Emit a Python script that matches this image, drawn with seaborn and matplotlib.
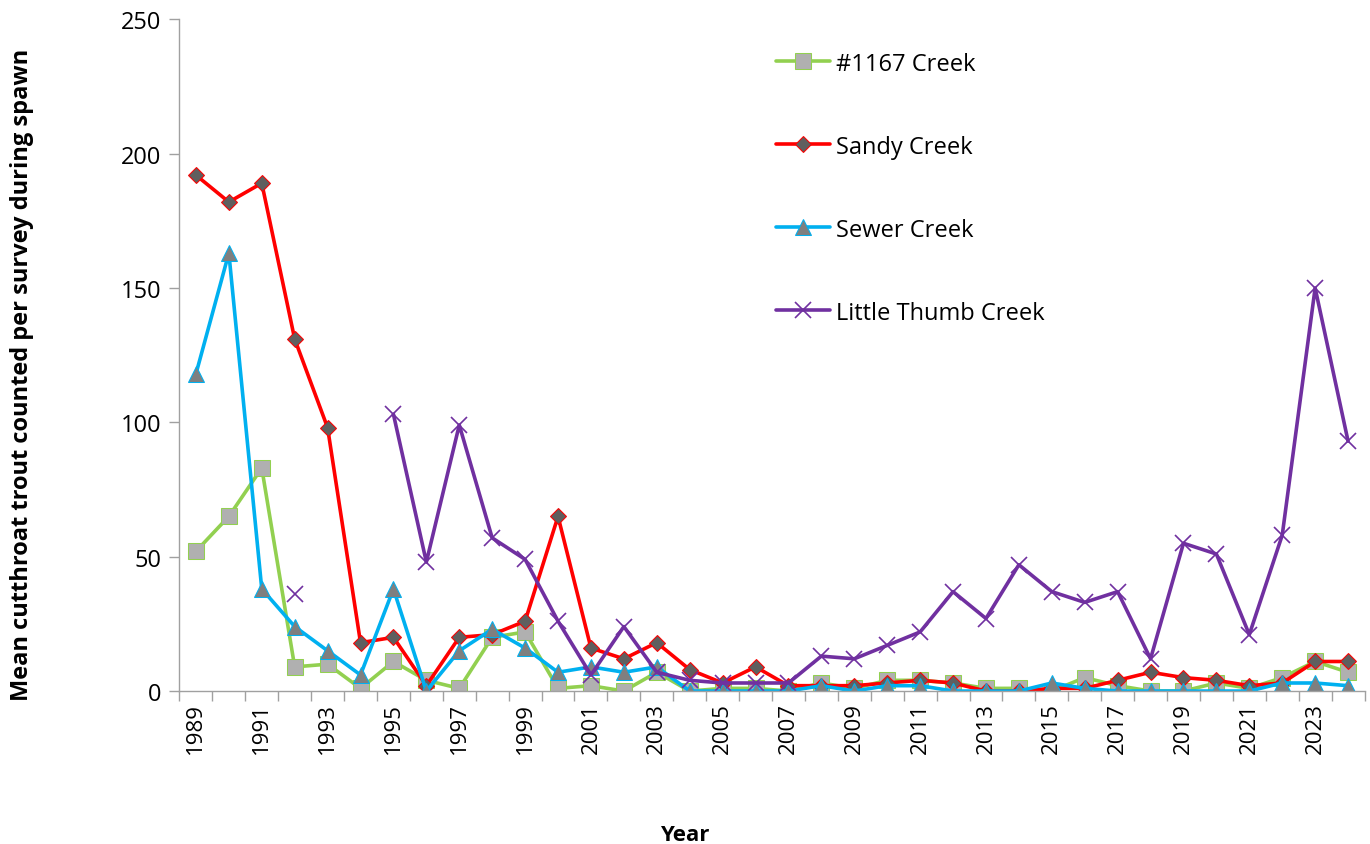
import numpy as np
import pandas as pd
import matplotlib
matplotlib.use('Agg')
import matplotlib.pyplot as plt
import seaborn as sns

years = list(range(1989, 2025))
creek_1167 = [52, 65, 83, 9, 10, 1, 11, 4, 1, 20, 22, 1, 2, 0, 7, 0, 1, 1, 0, 3,
              1, 4, 4, 3, 1, 1, 0, 5, 2, 0, 0, 3, 1, 5, 11, 7]
sandy = [192, 182, 189, 131, 98, 18, 20, 2, 20, 21, 26, 65, 16, 12, 18, 8, 3, 9, 2, 2,
         2, 3, 4, 3, 0, 0, 1, 1, 4, 7, 5, 4, 2, 3, 11, 11]
sewer = [118, 163, 38, 24, 15, 6, 38, 0, 15, 23, 16, 7, 9, 7, 9, 0, 0, 0, 0, 2,
         0, 2, 2, 0, 0, 0, 3, 1, 0, 0, 0, 0, 0, 3, 3, 2]
little_thumb = [None, None, None, 36, None, None, 103, 48, 99, 57, 49, 26, 6, 24, 7, 4, 3, 3, 3, 13,
                12, 17, 22, 37, 27, 47, 37, 33, 37, 12, 55, 51, 21, 58, 150, 93]

sns.set_style('ticks')
plt.rcParams['font.family'] = ['Open Sans', 'DejaVu Sans']
plt.rcParams['text.color'] = 'black'
plt.rcParams['axes.labelcolor'] = 'black'
plt.rcParams['xtick.labelcolor'] = 'black'
plt.rcParams['ytick.labelcolor'] = 'black'

fig = plt.figure(figsize=(13.7, 8.45), dpi=100)
ax = fig.add_axes([0.131, 0.181, 0.865, 0.795])

series = [
    ('#1167 Creek', creek_1167, dict(color='#92D050', marker='s', markerfacecolor='#B0B0B0',
                                     markeredgecolor='#92D050', markersize=11)),
    ('Sandy Creek', sandy, dict(color='#FF0000', marker='D', markerfacecolor='#5F5F5F',
                                markeredgecolor='#FF0000', markersize=8.5)),
    ('Sewer Creek', sewer, dict(color='#00B0F0', marker='^', markerfacecolor='#7F7F7F',
                                markeredgecolor='#00B0F0', markersize=11)),
    ('Little Thumb Creek', little_thumb, dict(color='#7030A0', marker='x', markeredgecolor='#7030A0',
                                              markersize=11, markeredgewidth=1.2)),
]

for name, vals, style in series:
    df = pd.DataFrame({'Year': years, 'Value': vals}).astype(float)
    # split into runs so gaps stay gaps
    run_id = df['Value'].isna().cumsum()
    first = True
    for _, seg in df.dropna().groupby(run_id[df['Value'].notna()]):
        sns.lineplot(data=seg, x='Year', y='Value', ax=ax, linewidth=2.6,
                     label=name if first else None, **style)
        first = False

ax.set_xlim(1988.5, 2024.5)
ax.set_ylim(0, 250)
ax.set_yticks(range(0, 251, 50))
ax.set_xticks(years[::2])
ax.set_xticklabels([str(y) for y in years[::2]], rotation=90)
ax.set_xticks(np.arange(1988.5, 2025, 1), minor=True)
ax.tick_params(axis='x', which='major', length=0, labelsize=16, pad=8)
ax.tick_params(axis='x', which='minor', length=7, color='#A0A0A0', width=1)
ax.tick_params(axis='y', length=7, color='#A0A0A0', width=1, labelsize=17, pad=6)

sns.despine(ax=ax)
for s in ['left', 'bottom']:
    ax.spines[s].set_color('#A0A0A0')
    ax.spines[s].set_linewidth(1)

ax.set_xlabel('Year', fontsize=16, fontweight='bold')
ax.set_ylabel('Mean cutthroat trout counted per survey during spawn', fontsize=17,
              fontweight='bold')
ax.xaxis.set_label_coords(0.426, -0.213)
ax.yaxis.set_label_coords(-0.133, 0.472)
ax.yaxis.label.set_verticalalignment('center')
ax.xaxis.label.set_verticalalignment('center')

ax.legend(loc='upper left', bbox_to_anchor=(0.503, 0.952), frameon=False, fontsize=17,
          labelspacing=2.5, handlelength=2.3, handletextpad=0.25, borderaxespad=0, borderpad=0)

fig.savefig('out.png', dpi=100)
